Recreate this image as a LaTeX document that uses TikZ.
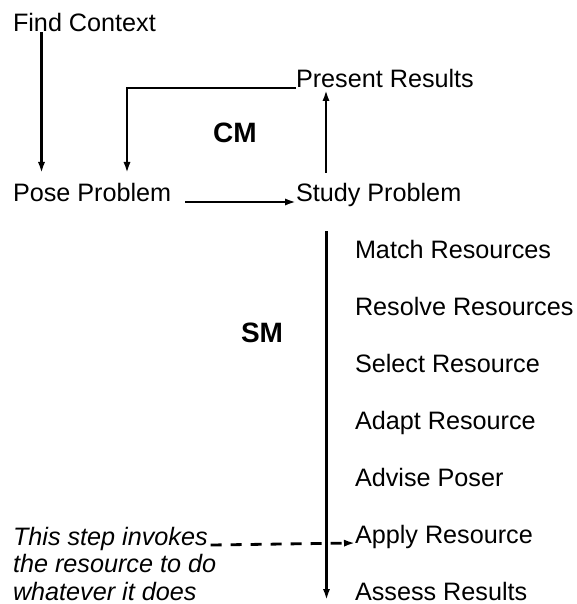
\documentclass[tikz,border=0pt]{standalone}
\usepackage{fontspec}
\setmainfont{Liberation Sans}
\usetikzlibrary{arrows.meta, positioning}

\begin{document}
\begin{tikzpicture}[
    x=0.5pt, y=-0.5pt,
    node distance=16.2pt,
    every node/.style={font=\fontsize{12.6}{15}\selectfont, inner sep=0pt, outer sep=0pt, text height=9.5pt, text depth=2.8pt},
    task/.style={anchor=base west},
    item/.style={anchor=north west},
    note/.style={font=\fontsize{12.6}{15}\selectfont\itshape, anchor=north west},
    group/.style={font=\fontsize{14}{16}\selectfont\bfseries},
    arrow/.style={-{Latex[length=5.5pt, width=3.6pt]}, line width=1.4pt}
]
\useasboundingbox (0,0) rectangle (577,604);

% Nodes
\node (find) [task] at (13,32) {Find Context};
\node (pose) [task] at (13,202) {Pose Problem};
\node (study) [task] at (296,202) {Study Problem};
\node (present) [task] at (296,88) {Present Results};
\node (cm) [group] at (235,136) {CM};

\node (match) [task] at (355,258) {Match Resources};
\node (resolve) [below=of match.south west, item] {Resolve Resources};
\node (select) [below=of resolve.south west, item] {Select Resource};
\node (adapt) [below=of select.south west, item] {Adapt Resource};
\node (advise) [below=of adapt.south west, item] {Advise Poser};
\node (apply) [below=of advise.south west, item] {Apply Resource};
\node (assess) [below=of apply.south west, item] {Assess Results};
\node (sm) [group] at (262,336) {SM};

\node (note1) [task, font=\fontsize{12.6}{15}\selectfont\itshape] at (13,545) {This step invokes};
\node (note2) [below=1.6pt of note1.south west, note] {the resource to do};
\node (note3) [below=1.6pt of note2.south west, note] {whatever it does};

\coordinate (smtop) at (326.5,231);

% Arrows for the CM cycle
\draw[arrow] ([xshift=14.25pt]find.base west) -- ([xshift=14.25pt, yshift=5pt]pose.north west);
\draw[arrow] ([xshift=7pt]pose.base east) -- (study.base west);
\draw[arrow] ([xshift=15pt, yshift=5pt]study.north west) -- ([xshift=15pt, yshift=-1pt]present.base west);
\draw[arrow] (present.base west) -| ([xshift=57pt, yshift=5pt]pose.north west);

% SM sequence
\draw[arrow] (smtop) -- (smtop |- assess.base);
\draw[arrow, dash pattern=on 5.5pt off 4.5pt] ([xshift=1.5pt]note1.base east) -- (apply.base west);

\end{tikzpicture}
\end{document}
